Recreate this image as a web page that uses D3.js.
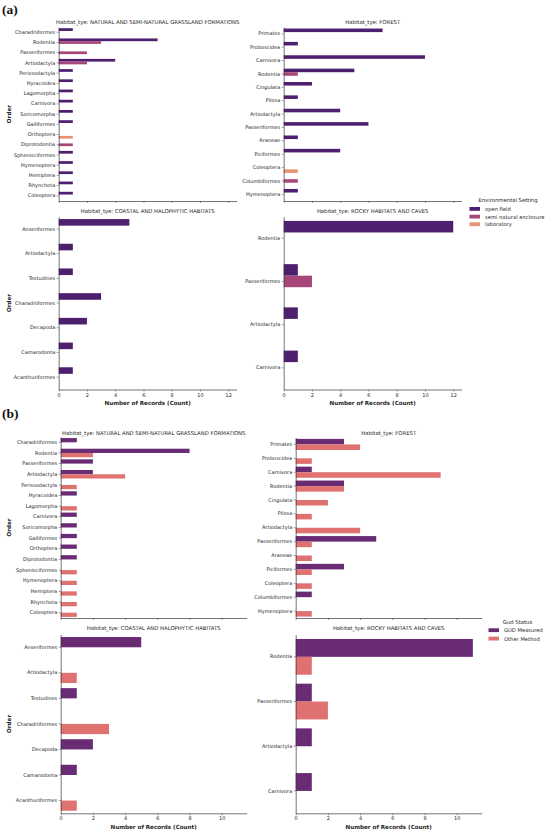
<!DOCTYPE html>
<html>
<head>
<meta charset="utf-8">
<script src="https://cdn.jsdelivr.net/npm/d3@7"></script>
<style>
body { margin: 0; background: #fff; }
text { font-family: "DejaVu Sans", sans-serif; fill: #262626; }
</style>
</head>
<body>
<svg id="fig" width="550" height="834"></svg>
<script>
// categories
var grassOrders = ['Charadriiformes','Rodentia','Passeriformes','Artiodactyla','Perissodactyla','Hyracoidea','Lagomorpha','Carnivora','Soricomorpha','Galliformes','Orthoptera','Diprotodontia','Sphenisciformes','Hymenoptera','Hemiptera','Rhynchota','Coleoptera'];
var forestOrders = ['Primates','Proboscidea','Carnivora','Rodentia','Cingulata','Pilosa','Artiodactyla','Passeriformes','Araneae','Piciformes','Coleoptera','Columbiformes','Hymenoptera'];
var coastalOrders = ['Anseriformes','Artiodactyla','Testudines','Charadriiformes','Decapoda','Camarodonta','Acanthuriformes'];
var rockyOrders = ['Rodentia','Passeriformes','Artiodactyla','Carnivora'];

var habitatTitles = ['Habitat_tye: NATURAL AND SEMI-NATURAL GRASSLAND FORMATIONS','Habitat_tye: FOREST','Habitat_tye: COASTAL AND HALOPHYTIC HABITATS','Habitat_tye: ROCKY HABITATS AND CAVES'];

// (a) environmental setting
var settingHues = ['open field','semi natural enclosure','laboratory'];
var aGrassOpen = [1,7,0,4,1,1,1,1,1,1,0,0,1,1,1,1,1];
var aGrassSemi = [0,3,2,2,0,0,0,0,0,0,0,1,0,0,0,0,0];
var aGrassLab  = [0,0,0,0,0,0,0,0,0,0,1,0,0,0,0,0,0];
var aForestOpen = [7,1,10,5,2,1,4,6,1,4,0,0,1];
var aForestSemi = [0,0,0,1,0,0,0,0,0,0,0,1,0];
var aForestLab  = [0,0,0,0,0,0,0,0,0,0,1,0,0];
var aCoastalOpen = [5,1,1,3,2,1,1];
var aCoastalSemi = [0,0,0,0,0,0,0];
var aCoastalLab  = [0,0,0,0,0,0,0];
var aRockyOpen = [12,1,1,1];
var aRockySemi = [0,2,0,0];
var aRockyLab  = [0,0,0,0];
var aTicks = [0,2,4,6,8,10,12];

// (b) GUD status
var gudHues = ['GUD Measured','Other Method'];
var bGrassGud   = [1,8,2,2,0,1,0,1,1,1,1,1,0,0,0,0,0];
var bGrassOther = [0,2,0,4,1,0,1,0,0,0,0,0,1,1,1,1,1];
var bForestGud   = [3,0,1,3,0,0,0,5,0,3,0,1,0];
var bForestOther = [4,1,9,3,2,1,4,1,1,1,1,0,1];
var bCoastalGud   = [5,0,1,0,2,1,0];
var bCoastalOther = [0,1,0,3,0,0,1];
var bRockyGud   = [11,1,1,1];
var bRockyOther = [1,2,0,0];
var bTicks = [0,2,4,6,8,10];

var settingColors = ['#4e1f6f','#a74779','#e99274'];
var gudColors = ['#6a2b75','#df7270'];

var svg = d3.select('#fig');

function drawPanel(p) {
    var g = svg.append('g');
    var y = d3.scaleBand().domain(p.orders).range([p.y0, p.y1]);
    var bw = y.bandwidth();
    var sub = d3.scaleBand().domain(p.hues).range([bw * 0.1, bw * 0.9]);
    var x = d3.scaleLinear().domain([0, p.xmax]).range([p.x0, p.x1]);

    p.series.forEach(function (vals, i) {
        var rows = p.orders.map(function (o, j) { return {o: o, v: vals[j]}; }).filter(function (d) { return d.v > 0; });
        g.selectAll(null).data(rows).enter().append('rect')
            .attr('x', x(0))
            .attr('y', function (d) { return y(d.o) + sub(p.hues[i]); })
            .attr('width', function (d) { return x(d.v) - x(0); })
            .attr('height', sub.bandwidth())
            .attr('fill', p.colors[i]);
    });

    var xa = d3.axisBottom(x).tickValues(p.ticks).tickSize(2).tickSizeOuter(0).tickPadding(1.5);
    if (!p.xlabels) xa.tickFormat('');
    var gx = g.append('g').attr('transform', 'translate(0,' + p.y1 + ')').call(xa);
    var gy = g.append('g').attr('transform', 'translate(' + p.x0 + ',0)')
        .call(d3.axisLeft(y).tickSize(2).tickSizeOuter(0).tickPadding(1.5));
    [gx, gy].forEach(function (a) {
        a.attr('font-family', null).attr('font-size', null);
        a.selectAll('text').style('font-size', '5px');
        a.selectAll('path').attr('stroke', '#3a3a3a').attr('stroke-width', 0.7);
        a.selectAll('line').attr('stroke', '#3a3a3a').attr('stroke-width', 0.5);
    });

    g.append('text')
        .attr('x', (p.x0 + p.x1) / 2)
        .attr('y', p.titleY)
        .attr('text-anchor', 'middle')
        .style('font-size', '5.3px')
        .text(p.title);

    if (p.xlabels) {
        g.append('text')
            .attr('x', (p.x0 + p.x1) / 2)
            .attr('y', p.y1 + 15.5)
            .attr('text-anchor', 'middle')
            .style('font-size', '5.6px')
            .style('font-weight', 'bold')
            .text('Number of Records (Count)');
    }
    if (p.ylabel) {
        g.append('text')
            .attr('transform', 'translate(11,' + (p.y0 + p.y1) / 2 + ')rotate(-90)')
            .attr('text-anchor', 'middle')
            .style('font-size', '5.6px')
            .style('font-weight', 'bold')
            .text('Order');
    }
}

function drawLegend(title, hues, colors, tx, ty, px, rowY) {
    var g = svg.append('g');
    g.append('text').attr('x', tx).attr('y', ty).attr('text-anchor', 'middle')
        .style('font-size', '5.3px').text(title);
    hues.forEach(function (h, i) {
        g.append('rect').attr('x', px).attr('y', rowY[i] - 2).attr('width', 10.5).attr('height', 3.8).attr('fill', colors[i]);
        g.append('text').attr('x', px + 15.5).attr('y', rowY[i] + 1.8).style('font-size', '5.2px').text(h);
    });
}

function tag(label, yy) {
    svg.append('text').attr('x', 2).attr('y', yy)
        .style('font-family', '"Liberation Serif", "DejaVu Serif", serif')
        .style('font-size', '13.5px').style('font-weight', 'bold').style('fill', '#111')
        .text(label);
}

tag('(a)', 14);
tag('(b)', 418);

var aPanels = [
    {orders: grassOrders,   series: [aGrassOpen, aGrassSemi, aGrassLab],       x0: 58.7,  x1: 236.7, y0: 27.2,  y1: 201,   titleY: 23.8,  ylabel: true,  xlabels: false},
    {orders: forestOrders,  series: [aForestOpen, aForestSemi, aForestLab],    x0: 283.7, x1: 461.7, y0: 27.2,  y1: 201,   titleY: 23.8,  ylabel: false, xlabels: false},
    {orders: coastalOrders, series: [aCoastalOpen, aCoastalSemi, aCoastalLab], x0: 58.7,  x1: 236.7, y0: 216.6, y1: 389.5, titleY: 212.9, ylabel: true,  xlabels: true},
    {orders: rockyOrders,   series: [aRockyOpen, aRockySemi, aRockyLab],       x0: 283.7, x1: 461.7, y0: 216.6, y1: 389.5, titleY: 212.9, ylabel: false, xlabels: true}
];
aPanels.forEach(function (p, i) {
    p.hues = settingHues; p.colors = settingColors; p.xmax = 12.6; p.ticks = aTicks; p.title = habitatTitles[i];
    drawPanel(p);
});

var bPanels = [
    {orders: grassOrders,   series: [bGrassGud, bGrassOther],     x0: 60.7,  x1: 246.7, y0: 437,   y1: 618,   titleY: 435.1, ylabel: true,  xlabels: false},
    {orders: forestOrders,  series: [bForestGud, bForestOther],   x0: 295.7, x1: 481.7, y0: 437.5, y1: 618,   titleY: 435.1, ylabel: false, xlabels: false},
    {orders: coastalOrders, series: [bCoastalGud, bCoastalOther], x0: 60.7,  x1: 246.7, y0: 634.5, y1: 813.3, titleY: 630.2, ylabel: true,  xlabels: true},
    {orders: rockyOrders,   series: [bRockyGud, bRockyOther],     x0: 295.7, x1: 481.7, y0: 634.5, y1: 813.3, titleY: 630.2, ylabel: false, xlabels: true}
];
bPanels.forEach(function (p, i) {
    p.hues = gudHues; p.colors = gudColors; p.xmax = 11.55; p.ticks = bTicks; p.title = habitatTitles[i];
    drawPanel(p);
});

drawLegend('Environmental Setting', settingHues, settingColors, 508, 201.8, 469.5, [209, 216.7, 224.3]);
drawLegend('Gud Status', gudHues, gudColors, 517.5, 623.5, 488.5, [630.3, 638.7]);
</script>
</body>
</html>
